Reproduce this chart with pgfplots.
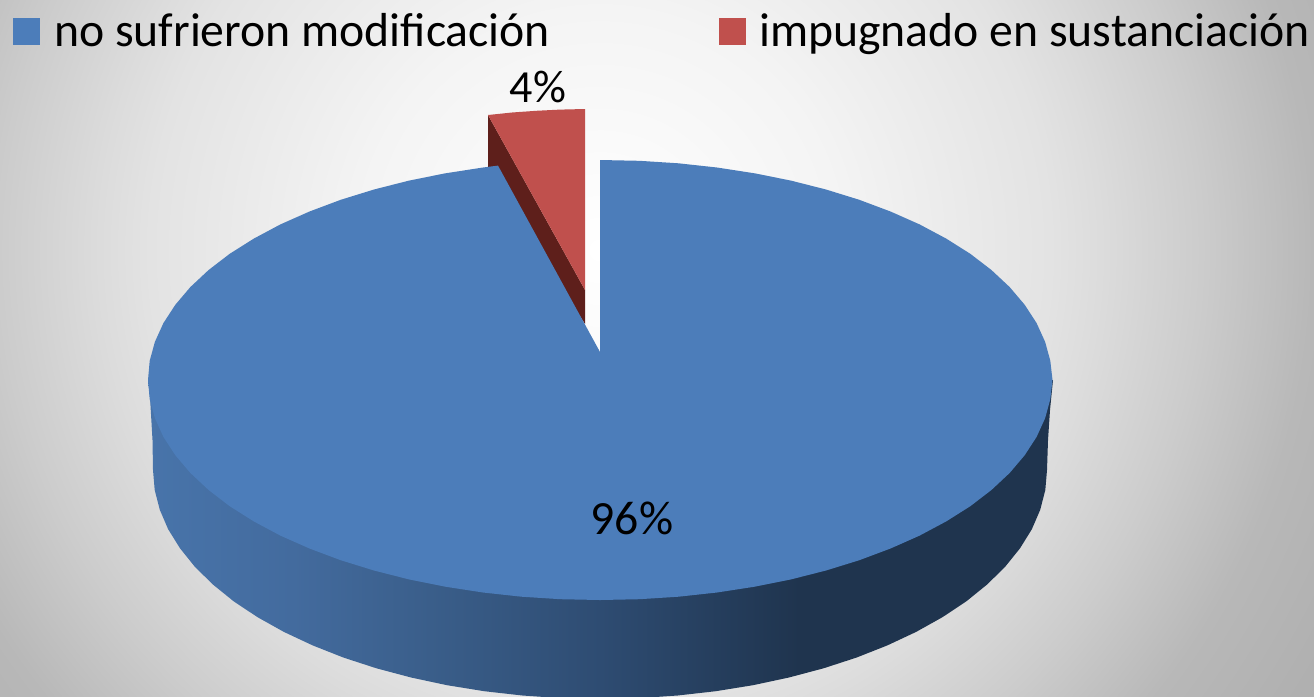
\documentclass[border=0pt]{standalone}
\usepackage{pgfplots}
\pgfplotsset{compat=1.18}
\usepackage{fontspec}
\setmainfont{Carlito}
\definecolor{pieblue}{HTML}{4C7DBA}
\definecolor{piered}{HTML}{C0504D}
\definecolor{piedark}{HTML}{5E1F1B}
\definecolor{sa}{HTML}{4874AA}
\definecolor{sb}{HTML}{436B9E}
\definecolor{sc}{HTML}{3A5E8A}
\definecolor{sd}{HTML}{2E4C72}
\definecolor{se}{HTML}{1F344E}
\definecolor{ba}{HTML}{FFFFFF}
\definecolor{bb}{HTML}{F4F4F4}
\definecolor{bc}{HTML}{E3E3E3}
\definecolor{bd}{HTML}{DCDCDC}
\definecolor{be}{HTML}{CCCCCC}
\definecolor{bf}{HTML}{B8B8B8}
\definecolor{bg}{HTML}{B0B0B0}
\pgfdeclarehorizontalshading{pieside}{100bp}{color(0bp)=(sa); color(25bp)=(sa); color(33bp)=(sb); color(40.6bp)=(sc); color(50bp)=(sd); color(61bp)=(se); color(100bp)=(se)}
\pgfdeclareradialshading{slidebg}{\pgfpoint{0bp}{0bp}}{color(0bp)=(ba); color(6.67bp)=(bb); color(12.5bp)=(bc); color(13.9bp)=(bd); color(16.7bp)=(be); color(19.8bp)=(bf); color(23bp)=(bg); color(50bp)=(bg)}
\begin{document}
\begin{tikzpicture}
\begin{axis}[
  hide axis, scale only axis, width=1314pt, height=696pt,
  xmin=0, xmax=1314, ymin=0, ymax=696, y dir=reverse,
  clip=true]
% background
\addplot[draw=none, shade, shading=slidebg] coordinates {(-300,-650) (1500,-650) (1500,1150) (-300,1150)} --cycle;
% pie side
\addplot[draw=none, shade, shading=pieside] coordinates {
 (1053,380) (1050,410) (1048,440) (1047,470) (1045.3,490) (1040.2,509.8) (1031.8,529.3) (1020,548.3) (1005.1,566.8) (987.1,584.5) (966.2,601.4) (942.4,617.2) (916.1,631.9) (887.3,645.4) (856.4,657.6) (823.5,668.3) (788.9,677.5) (752.9,685.2) (715.7,691.2) (677.6,695.5) (639,698.1) (600,699)
 (561,698.1) (522.4,695.5) (484.3,691.2) (447.1,685.2) (411.1,677.5) (376.5,668.3) (343.6,657.6) (312.7,645.4) (283.9,631.9) (257.6,617.2) (233.8,601.4) (212.9,584.5) (194.9,566.8) (180,548.3) (168.2,529.3) (159.8,509.8) (154.7,490) (153,470) (152.5,440) (150,397) (148,380)} --cycle;
% red slice
\addplot[draw=none, fill=piedark] coordinates {(488,115) (585,290) (585,324) (488,170)} --cycle;
\addplot[draw=none, fill=piered] coordinates {(488,115) (512,112.5) (536,110.8) (560,109.6) (585,109) (585,290)} --cycle;
% blue top
\addplot[draw=none, fill=pieblue] coordinates {
(600,160) (639.4,160.8) (678.5,163.3) (717,167.5) (754.6,173.3) (791,180.6) (826,189.5) (859.3,199.8) (890.5,211.5) (919.6,224.4) (946.2,238.6) (970.3,253.8) (991.4,270) (1009.6,287) (1024.7,304.8) (1036.6,323.1) (1045.1,341.8) (1050.3,360.8) (1052.5,380)
(1050.3,399.2) (1045.1,418.2) (1036.6,436.9) (1024.7,455.2) (1009.6,473) (991.4,490) (970.3,506.2) (946.2,521.4) (919.6,535.6) (890.5,548.5) (859.3,560.2) (826,570.5) (791,579.4) (754.6,586.7) (717,592.5) (678.5,596.7) (639.4,599.2) (600,600)
(560.6,599.2) (521.5,596.7) (483,592.5) (445.4,586.7) (409,579.4) (374,570.5) (340.7,560.2) (309.5,548.5) (280.4,535.6) (253.8,521.4) (229.7,506.2) (208.6,490) (190.4,473) (175.3,455.2) (163.4,436.9) (154.9,418.2) (149.7,399.2) (148,380)
(149.7,360.8) (154.9,341.8) (163.4,323.1) (175.3,304.8) (190.4,287) (208.6,270) (229.7,253.8) (253.8,238.6) (280.4,224.4) (309.5,211.5) (340.7,199.8) (374,189.5) (409,180.6) (445.4,173.3) (483,167.5) (498,165.6) (600,352)} --cycle;
% legend keys
\addplot[draw=none, fill=pieblue] coordinates {(13,18) (40,18) (40,45) (13,45)} --cycle;
\addplot[draw=none, fill=piered] coordinates {(719,18) (746,18) (746,45) (719,45)} --cycle;
\node[anchor=base west, inner sep=0pt, font=\fontsize{47.7}{48}\selectfont] at (axis cs:54,46) {no sufrieron modificación};
\node[anchor=base west, inner sep=0pt, font=\fontsize{47.7}{48}\selectfont] at (axis cs:759,46) {impugnado en sustanciación};
\node[anchor=base, inner sep=0pt, font=\fontsize{46}{46}\selectfont] at (axis cs:538,102) {4\%};
\node[anchor=base, inner sep=0pt, font=\fontsize{47.7}{48}\selectfont] at (axis cs:632,534) {96\%};
\end{axis}
\end{tikzpicture}
\end{document}
